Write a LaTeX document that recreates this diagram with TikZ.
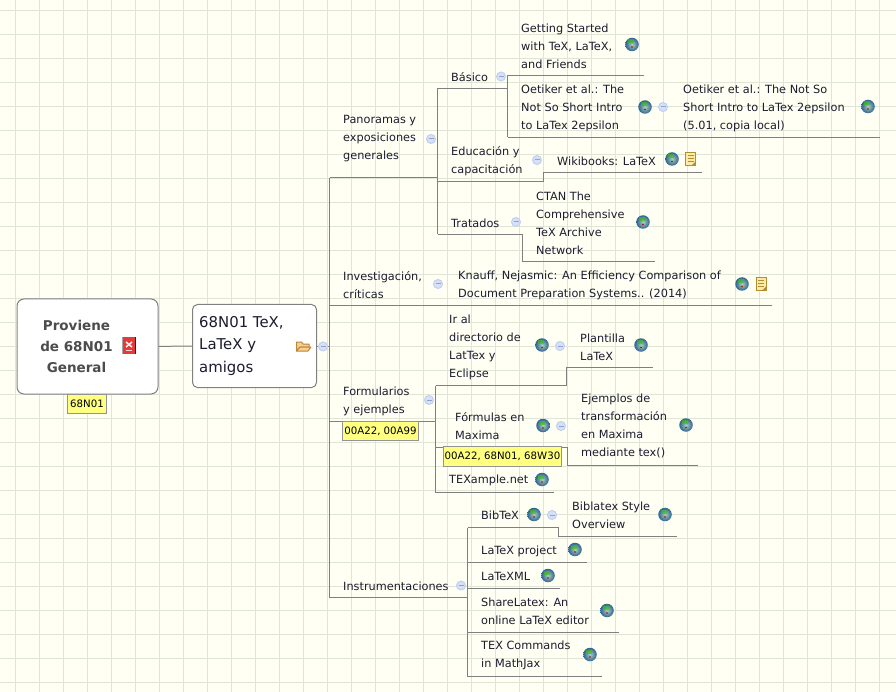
\documentclass[tikz,border=0pt]{standalone}
\usepackage{fontspec}
\setmainfont{DejaVu Sans}
\usepackage{tikz}
\definecolor{paper}{HTML}{FFFFF3}
\definecolor{gridc}{HTML}{E0E6D6}
\definecolor{linkc}{HTML}{808080}
\definecolor{inkc}{HTML}{1C1C30}
\definecolor{tagc}{HTML}{FFFF80}
\definecolor{dotc}{HTML}{D6E0F8}
\definecolor{dotd}{HTML}{C2D0EE}
\definecolor{dotm}{HTML}{8FA3CF}
\definecolor{globei}{HTML}{A9D0B4}
\definecolor{globeo}{HTML}{2F6296}
\definecolor{notef}{HTML}{FBEBA6}
\definecolor{noted}{HTML}{B48C32}
\definecolor{foldf}{HTML}{F8D090}
\definecolor{foldd}{HTML}{B8863C}
\definecolor{pdfc}{HTML}{E23B3B}
\tikzset{
  x=1pt,y=-1pt,
  gridline/.style={gridc,line width=1pt},
  link/.style={linkc,line width=1pt},
  topic/.style={anchor=west,align=left,inner sep=0pt,yshift=-1pt,text=inkc,font=\fontsize{11.3}{18}\selectfont},
  tagbox/.style={draw=linkc!85,line width=1pt,fill=tagc,inner sep=0pt,minimum height=19.5pt,text=black,font=\fontsize{10.2}{13}\selectfont},
  rootbox/.style={draw=linkc,line width=1pt,fill=white,rounded corners=7pt,inner sep=0pt,minimum width=141pt,minimum height=95pt},
  centralbox/.style={draw=linkc,line width=1pt,fill=white,rounded corners=5pt,inner sep=0pt,minimum width=124pt,minimum height=83pt},
  fold/.style={circle,draw=dotd,line width=1pt,fill=dotc,inner sep=0pt,minimum size=9pt,
    path picture={\draw[dotm,line width=1pt] (path picture bounding box.center)++(-2.5,0) -- ++(5,0);}},
  globe/.style={circle,inner sep=0pt,minimum size=13.5pt,inner color=globei,outer color=globeo,
    path picture={\fill[green!55!olive,opacity=.55] (path picture bounding box.center)++(-4,-1) rectangle ++(6,-4);
      \fill[red!70!black] (path picture bounding box.center)++(0,2.5) circle (.8);}},
  notepage/.style={draw=noted,line width=1pt,fill=notef,inner sep=0pt,minimum width=10pt,minimum height=13pt,
    path picture={\foreach \k in {3,6,9}
      \draw[noted,line width=.8pt] (path picture bounding box.north west)++(2,\k) -- ++(6,0);
      \fill[noted] (path picture bounding box.south east) -- ++(-4,0) -- ++(4,-4) -- cycle;}},
  pdfpage/.style={fill=pdfc,inner sep=0pt,minimum width=13pt,minimum height=17pt,
    path picture={\draw[white,line width=1.4pt] (path picture bounding box.center)++(-3,-3.5) -- ++(6,5) ++(-6,0) -- ++(6,-5);
      \draw[white!80!pdfc,line width=1pt] (path picture bounding box.center)++(-3,4.5) -- ++(6,0);
      \draw[black,line width=1pt] (path picture bounding box.south west) -- (path picture bounding box.north west);
      \draw[black,line width=1pt] (path picture bounding box.south east) -- (path picture bounding box.north east);}},
  folderline/.style={draw=foldd,line width=1pt,fill=foldf,line join=round},
}
\begin{document}
\begin{tikzpicture}
\useasboundingbox (0,0) rectangle (896,692);
\fill[paper] (0,0) rectangle (896,692);
\foreach \gx in {15.5,39.5,...,879.5}
  \draw[gridline] (\gx,0) -- (\gx,692);
\foreach \gy in {10.5,34.5,...,682.5}
  \draw[gridline] (0,\gy) -- (896,\gy);

\path
  (87.5,346.5) node[rootbox](root) {}
  (254.5,346) node[centralbox](central) {}
  (329.5,346) coordinate(trunkC)
  (329.5,178) coordinate(trunkT)
  (329.5,305.5) coordinate(trunkI)
  (329.5,421.5) coordinate(trunkF)
  (329.5,597.5) coordinate(trunkB)
  % panoramas
  (437.5,178) coordinate(panE)
  (437.5,88.5) coordinate(basL)
  (507.5,88.5) coordinate(basM)
  (507.5,75.5) coordinate(getL)
  (643.5,75.5) coordinate(getE)
  (507.5,137.5) coordinate(oetL)
  (667.5,137.5) coordinate(oetM)
  (879.5,137.5) coordinate(oetE)
  (437.5,181.5) coordinate(eduL)
  (543.5,181.5) coordinate(eduM)
  (702,172.5) coordinate(wikiE)
  (437.5,234.5) coordinate(traL)
  (522.5,234.5) coordinate(traM)
  (654.5,261.5) coordinate(ctanE)
  (772,305.5) coordinate(invE)
  % formularios
  (435.5,421.5) coordinate(forE)
  (435.5,385.5) coordinate(irL)
  (566.5,385.5) coordinate(irM)
  (653,367.5) coordinate(plaE)
  (435.5,447) coordinate(fmlL)
  (567.5,447) coordinate(fmlM)
  (698,465.5) coordinate(ejeE)
  (435.5,492.5) coordinate(texL)
  (553.5,492.5) coordinate(texE)
  % instrumentaciones
  (467.5,597.5) coordinate(insE)
  (467.5,527.5) coordinate(bibL)
  (558.5,527.5) coordinate(bibM)
  (677,536.5) coordinate(blxE)
  (467.5,562.5) coordinate(proL)
  (587,562.5) coordinate(proE)
  (467.5,588.5) coordinate(xmlL)
  (560,588.5) coordinate(xmlE)
  (467.5,632.5) coordinate(shaL)
  (618.5,632.5) coordinate(shaE)
  (467.5,676.5) coordinate(cmdL)
  (602,676.5) coordinate(cmdE)
  (303.5,346) coordinate(open)
  ;

\draw[link] (root) -- (central);
\draw[link] (central) -- (trunkC);
\draw[link] (trunkT) -- (trunkB);
\draw[link] (trunkT) -- (panE);
\draw[link] (basL) -- (traL);
\draw[link] (basL) -- (basM);
\draw[link] (getL) -- (oetL);
\draw[link] (getL) -- (getE);
\draw[link] (oetL) -- (oetM);
\draw[link] (oetM) -- (oetE);
\draw[link] (eduL) -- (eduM) |- (wikiE);
\draw[link] (traL) -- (traM) |- (ctanE);
\draw[link] (trunkI) -- (invE);
\draw[link] (trunkF) -- (forE);
\draw[link] (irL) -- (texL);
\draw[link] (irL) -- (irM) |- (plaE);
\draw[link] (fmlL) -- (fmlM) |- (ejeE);
\draw[link] (texL) -- (texE);
\draw[link] (trunkB) -- (insE);
\draw[link] (bibL) -- (cmdL);
\draw[link] (bibL) -- (bibM) |- (blxE);
\draw[link] (proL) -- (proE);
\draw[link] (xmlL) -- (xmlE);
\draw[link] (shaL) -- (shaE);
\draw[link] (cmdL) -- (cmdE);

\path
  (76.5,346) node[align=center,inner sep=0pt,text=black!70,font=\bfseries\fontsize{13.5}{21}\selectfont](roottext) {Proviene\\de 68N01\\General}
  (199,345) node[topic,font=\fontsize{14.9}{22.5}\selectfont](centraltext) {68N01 TeX,\\LaTeX y\\amigos}
  (87,404) node[tagbox,minimum width=39pt](roottag) {68N01}
  (343,138) node[topic](pan) {Panoramas y\\exposiciones\\generales}
  (451,76) node[topic](bas) {Básico}
  (521,45) node[topic](get) {Getting Started\\with TeX, LaTeX,\\and Friends}
  (521,107) node[topic](oet) {Oetiker et al.: The\\Not So Short Intro\\to LaTex 2epsilon}
  (683,107) node[topic](oetb) {Oetiker et al.: The Not So\\Short Intro to LaTex 2epsilon\\(5.01, copia local)}
  (451,160) node[topic](edu) {Educación y\\capacitación}
  (557,160) node[topic](wiki) {Wikibooks: LaTeX}
  (451,222) node[topic](tra) {Tratados}
  (536,222) node[topic](ctan) {CTAN The\\Comprehensive\\TeX Archive\\Network}
  (343,284) node[topic](inv) {Investigación,\\críticas}
  (458,284) node[topic](kna) {Knauff, Nejasmic: An Efficiency Comparison of\\Document Preparation Systems.. (2014)}
  (343,400) node[topic](for) {Formularios\\y ejemples}
  (380.5,431) node[tagbox,minimum width=76pt](fortag) {00A22, 00A99}
  (449,346) node[topic](ir) {Ir al\\directorio de\\LatTex y\\Eclipse}
  (580,346) node[topic](pla) {Plantilla\\LaTeX}
  (455,425) node[topic](fml) {Fórmulas en\\Maxima}
  (502.5,456.5) node[tagbox,minimum width=118pt](fmltag) {00A22, 68N01, 68W30}
  (581,425) node[topic](eje) {Ejemplos de\\transformación\\en Maxima\\mediante tex()}
  (449,479) node[topic](tex) {TEXample.net}
  (343,585) node[topic](ins) {Instrumentaciones}
  (481,514) node[topic](bib) {BibTeX}
  (572,514) node[topic](blx) {Biblatex Style\\Overview}
  (481,550) node[topic](pro) {LaTeX project}
  (481,575) node[topic](xml) {LaTeXML}
  (481,610) node[topic](sha) {ShareLatex: An\\online LaTeX editor}
  (481,654) node[topic](cmd) {TEX Commands\\in MathJax}
  ;

% fold marks
\foreach \px/\py/\pn in {323/346.5/a,431/139/b,501/76.5/c,663/107/d,537/160/e,516/222/f,438/284/g,429/400/h,560/346/i,561/426/j,461/585.5/k,552/515/l}
  \node[fold](fold\pn) at (\px,\py) {};

% link icons
\foreach \px/\py/\pn in {632/44.5/a,645/107/b,868/106.5/c,672/159/d,643/222/e,742/284/f,542/345/g,641/345/h,543/425.5/i,686/425/j,542/479.5/k,534/514.5/l,665/514.5/m,575/549.5/n,548/575.5/o,607/610.5/p,590/654.5/q}
  \node[globe](globe\pn) at (\px,\py) {};

\node[notepage](notea) at (690.5,159) {};
\node[notepage](noteb) at (761,284) {};
\node[pdfpage](pdf) at (129,345.5) {};
\draw[folderline] (296.5,351) -- (296.5,342) -- (301.5,342) -- (303,344) -- (309,344) -- (309,347) -- (300,347) -- cycle;
\draw[folderline] (296.5,351) -- (300,347) -- (311,347) -- (308,351) -- cycle;
\end{tikzpicture}
\end{document}
